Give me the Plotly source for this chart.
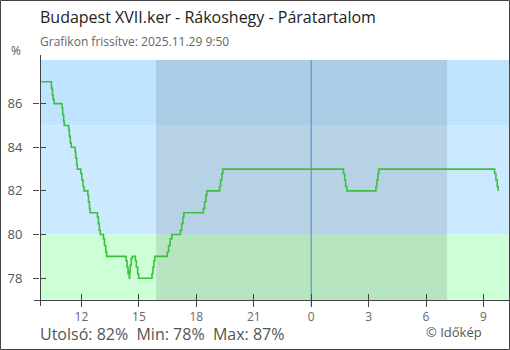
import plotly.graph_objects as go

# Humidity readings (%) at the moments the value changed
day1 = "2025-11-28 "
day2 = "2025-11-29 "
times = [
    day1 + t for t in [
        "09:54", "10:26", "10:29", "10:31", "10:34", "10:59", "11:01", "11:04", "11:06",
        "11:20", "11:22", "11:25", "11:28", "11:40", "11:42", "11:45", "11:47",
        "11:58", "12:01", "12:05", "12:08", "12:20", "12:22", "12:25", "12:27",
        "12:50", "12:53", "12:56", "12:59", "13:09", "13:12", "13:16", "13:19",
        "14:20", "14:23", "14:26", "14:30", "14:31", "14:33", "14:36", "14:39",
        "14:49", "14:52", "14:56", "14:59", "15:41", "15:44", "15:47", "15:50",
        "16:29", "16:33", "16:38", "16:43", "17:10", "17:14", "17:18", "17:21",
        "18:22", "18:26", "18:30", "18:33", "19:13", "19:16", "19:20", "19:23",
    ]
] + [
    day2 + t for t in [
        "01:41", "01:45", "01:48", "01:52", "03:23", "03:26", "03:29", "03:32",
        "09:35", "09:39", "09:43", "09:46",
    ]
]
humidity = [
    87, 86.7, 86.4, 86.2, 86, 85.8, 85.5, 85.2, 85,
    84.8, 84.5, 84.2, 84, 83.8, 83.5, 83.2, 83,
    82.8, 82.5, 82.2, 82, 81.8, 81.5, 81.2, 81,
    80.8, 80.5, 80.2, 80, 79.8, 79.5, 79.2, 79,
    78.8, 78.5, 78.2, 78, 78.3, 78.6, 78.9, 79,
    78.8, 78.5, 78.2, 78, 78.2, 78.5, 78.8, 79,
    79.2, 79.5, 79.8, 80, 80.2, 80.5, 80.8, 81,
    81.2, 81.5, 81.8, 82, 82.2, 82.5, 82.8, 83,
    82.8, 82.5, 82.2, 82, 82.2, 82.5, 82.8, 83,
    82.8, 82.5, 82.2, 82,
]

x_range = ["2025-11-28 09:50", "2025-11-29 10:20"]
y_range = [77, 88]
x_tick_vals = [day1 + "12:00", day1 + "15:00", day1 + "18:00", day1 + "21:00",
               day2 + "00:00", day2 + "03:00", day2 + "06:00", day2 + "09:00"]
x_tick_text = ["12", "15", "18", "21", "0", "3", "6", "9"]
y_tick_vals = [78, 80, 82, 84, 86]

# Humidity bands (lower, upper, colour)
bands = [(77, 80, "#ccffd6"), (80, 85, "#cceaff"), (85, 88, "#bee4ff")]
night = (day1 + "15:54", day2 + "07:06")
midnight = day2 + "00:00"

title = "Budapest XVII.ker - Rákoshegy - Páratartalom"
subtitle = "Grafikon frissítve: 2025.11.29 9:50"
stats = "Utolsó: 82%&nbsp; Min: 78%&nbsp; Max: 87%"
credit = "© Időkép"

W, H = 510, 350
L, R, T, B = 40, 1, 60, 50
PW, PH = W - L - R, H - T - B


def px(x):
    return (x - L) / PW


def py(y):
    return (H - B - y) / PH


FONT = "Open Sans"
AXIS = "#444444"

fig = go.Figure()
fig.add_trace(go.Scatter(
    x=times, y=humidity, mode="lines", line=dict(color="#3fbf3f", width=1.6, shape="hv"),
    hoverinfo="skip", showlegend=False,
))

shapes = []
for lo, hi, col in bands:
    shapes.append(dict(type="rect", xref="paper", yref="y", x0=0, x1=1, y0=lo, y1=hi,
                       fillcolor=col, line=dict(width=0), layer="below"))
shapes.append(dict(type="rect", xref="x", yref="paper", x0=night[0], x1=night[1], y0=0, y1=1,
                   fillcolor="rgba(0,0,0,0.1)", line=dict(width=0), layer="below"))
shapes.append(dict(type="line", xref="x", yref="paper", x0=midnight, x1=midnight,
                   y0=py(306), y1=1, line=dict(color="#3a8fd0", width=1), layer="below"))
# axis lines extended past the plot corner
shapes.append(dict(type="line", xref="paper", yref="paper", x0=px(40.5), x1=px(40.5),
                   y0=py(306), y1=py(55), line=dict(color=AXIS, width=1)))
shapes.append(dict(type="line", xref="paper", yref="paper", x0=px(34), x1=1,
                   y0=py(300.5), y1=py(300.5), line=dict(color=AXIS, width=1)))
# outer frame
shapes.append(dict(type="rect", xref="paper", yref="paper", x0=px(0.5), x1=px(509.5),
                   y0=py(349.5), y1=py(0.5), line=dict(color=AXIS, width=1),
                   fillcolor="rgba(0,0,0,0)"))


def label(text, x, y, anchor, size, color):
    return dict(text=text, x=px(x), y=py(y), xref="paper", yref="paper", xanchor=anchor,
                yanchor="middle", showarrow=False,
                font=dict(family=FONT, size=size, color=color))


annotations = [
    label(title, 38, 16.5, "left", 16, "#222222"),
    label(subtitle, 38, 41.5, "left", 12, "#666666"),
    label("%", 16, 51, "center", 12, "#555555"),
    label(stats, 38, 334, "left", 16, "#555555"),
    label(credit, 484, 332, "right", 13, "#555555"),
]

fig.update_layout(
    width=W, height=H, margin=dict(l=L, r=R, t=T, b=B),
    paper_bgcolor="white", plot_bgcolor="white",
    font=dict(family=FONT, color="#555555"),
    shapes=shapes, annotations=annotations,
    xaxis=dict(type="date", range=x_range, tickvals=x_tick_vals, ticktext=x_tick_text,
               ticks="outside", ticklen=6, tickcolor=AXIS, tickwidth=1, showgrid=False,
               zeroline=False, showline=False, tickfont=dict(size=12, color="#666666")),
    xaxis2=dict(type="date", range=x_range, tickvals=x_tick_vals, overlaying="x",
                ticks="inside", ticklen=6, tickcolor=AXIS, tickwidth=1, showgrid=False,
                zeroline=False, showline=False, showticklabels=False),
    yaxis=dict(range=y_range, tickvals=y_tick_vals, ticks="outside", ticklen=6,
               tickcolor=AXIS, tickwidth=1, showgrid=False, zeroline=False, showline=False,
               ticklabelstandoff=8, tickfont=dict(size=13, color="#555555")),
    yaxis2=dict(range=y_range, tickvals=y_tick_vals, overlaying="y", ticks="inside",
                ticklen=6, tickcolor=AXIS, tickwidth=1, showgrid=False, zeroline=False,
                showline=False, showticklabels=False),
)
# invisible trace to show the inside tick marks of the overlay axes
fig.add_trace(go.Scatter(x=[x_range[0]], y=[y_range[0]], xaxis="x2", yaxis="y2",
                         mode="markers", marker=dict(opacity=0), hoverinfo="skip",
                         showlegend=False))

fig.write_html("out.html")
